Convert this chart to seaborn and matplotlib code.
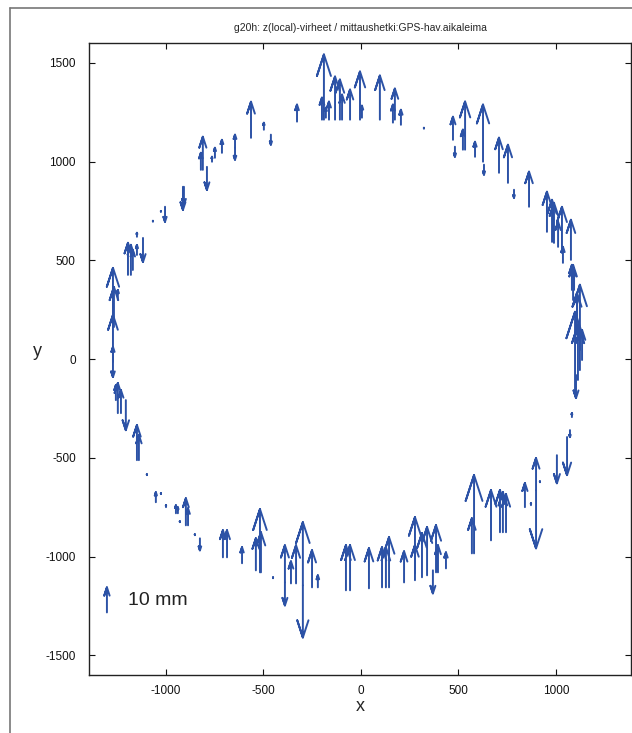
import numpy as np
import pandas as pd
import matplotlib
matplotlib.use("Agg")
import matplotlib.pyplot as plt
from matplotlib.lines import Line2D
import seaborn as sns

# ---- data: measurement points (x, y) and z(local) errors in mm ----
x_pts = [-564, -498, -462, -328, -190, -200, -180, -164, -133, -108, -97, -56, -5, 5, 97, 164, 174, 205,
         323, 472, 482, 523, 534, 585, 626, 631, 708, 754, 785, 862,
         954, 980, 990, 1011, 1031, 1036, 1077, 1082, 1093, 1123, 1108, 1098, 1113, 1123, 1134, 1103,
         1082, 1072, 1057, 1088, 1108,
         1005, 918, 898, 898, 841, 872, 713, 728, 744, 667, 580, 569, 436, 385, 395, 369, 339, 313,
         277, 277, 221, 144, 128, 108, 41, -56, -77,
         -221, -251, -298, -298, -333, -359, -390, -390, -451, -518, -513, -539, -610, -708, -687,
         -826, -852, -898, -887, -929, -949, -939, -1000, -1052, -1026, -1098,
         -1149, -1139, -1247, -1231, -1206, -1257, -1272, -1272, -1272, -1267, -1272, -1247, -1195,
         -1180, -1170, -1149, -1118, -1149, -1067, -1026, -1005, -913, -908, -821, -811, -790, -764,
         -749, -713, -646, -646]
y_pts = [1120, 1161, 1136, 1202, 1212, 1212, 1222, 1212, 1212, 1212, 1212, 1212, 1212, 1222, 1212, 1197, 1212, 1186,
         1166, 1110, 1075, 1060, 1060, 1024, 999, 984, 943, 892, 857, 771,
         644, 593, 588, 568, 537, 487, 502, 350, 350, 46, 122, -167, -106, -56, -5, -81,
         -294, -360, -395, 299, 198,
         -487, -624, -664, -664, -750, -740, -877, -877, -877, -918, -984, -984, -1060, -1080, -1080, -1070, -1095, -1105,
         -1085, -1120, -1131, -1156, -1156, -1156, -1161, -1171, -1171,
         -1156, -1156, -1146, -1146, -1136, -1136, -1131, -1131, -1110, -1080, -1080, -1070, -1034, -1004, -1004,
         -908, -892, -842, -842, -826, -781, -781, -750, -725, -684, -588,
         -512, -512, -274, -274, -208, -208, -15, -5, -5, 162, 172, 299, 426,
         426, 451, 527, 613, 619, 695, 745, 771, 872, 872, 958, 958, 973, 999,
         1019, 1044, 1070, 1070]
dz_mm = [14.4, 2.8, -4.0, 6.8, 26.0, 8.8, 4.0, 7.2, 17.2, 16.0, 10.0, 12.0, 19.2, 4.8, 17.6, 7.2, 12.4, 6.0,
         0.4, 9.2, -4.0, 8.0, 19.2, 6.0, 22.8, -4.0, 14.0, 15.2, -3.2, 14.0,
         16.0, 16.8, 16.0, 10.0, 18.4, 6.4, 16.0, 10.0, 8.0, 26.0, 16.8, 32.0, 22.0, 16.0, 12.0, -9.2,
         1.6, -2.8, -15.2, 14.0, 10.0,
         -11.2, 0.4, 12.8, -23.2, 9.6, 0.8, 16.8, 16.0, 15.2, 20.0, 31.2, 14.0, 6.4, 18.8, 10.8, -9.2, 19.2, 17.6,
         22.4, 14.0, 12.4, 20.0, 16.0, 16.0, 16.0, 18.0, 18.0,
         4.8, 14.8, 25.2, -20.8, 15.2, 8.8, 14.8, -9.2, 0.4, 25.2, 16.0, 12.8, 6.4, 10.8, 10.8,
         -4.8, 0.4, 10.8, 6.8, 0.4, 3.2, 2.4, 0.8, 4.0, 0.4, 0.4,
         14.0, 10.0, 12.0, 9.2, -12.0, 6.0, 6.0, -6.8, 18.0, 16.0, 22.8, 4.0, 12.8,
         12.0, 8.0, 4.0, -9.6, 1.6, 0.4, 0.4, -6.0, -9.2, -7.2, 6.8, 13.2, -9.2, 2.0,
         4.0, 5.2, 5.2, -4.8]

# reference (key) arrow
key_x = [-1303]
key_y = [-1283]
key_dz = [10.0]
key_label = "10 mm"

title = "g20h: z(local)-virheet / mittaushetki:GPS-hav.aikaleima"
x_ticks = [-1000, -500, 0, 500, 1000]
y_ticks = [-1500, -1000, -500, 0, 500, 1000, 1500]

# ---- styling ----
MM = 12.7            # data units per mm of error
ALPHA, BETA = 0.33, 0.33
ARROW_COLOR = "#2c52a6"

sns.set_style("ticks")
plt.rcParams["font.family"] = ["Liberation Sans", "DejaVu Sans"]
plt.rcParams["axes.unicode_minus"] = False


def arrow_frame(xs, ys, dzs, start_id=0):
    rows = []
    for i, (x, y, dz) in enumerate(zip(xs, ys, dzs)):
        L = dz * MM
        tip = y + L
        w = ALPHA * BETA * abs(L)
        back = tip - ALPHA * L
        pts = [(x, y), (x, tip), (x - w, back), (x, tip), (x + w, back)]
        for k, (px, py) in enumerate(pts):
            rows.append({"arrow": start_id + i, "order": k, "x": px, "y": py})
    return pd.DataFrame(rows)


df = arrow_frame(x_pts, y_pts, dz_mm)
dfk = arrow_frame(key_x, key_y, key_dz, start_id=10000)

fig = plt.figure(figsize=(6.32, 7.33), dpi=100)
ax = fig.add_axes([0.1408, 0.0791, 0.8576, 0.8622])

sns.lineplot(data=df, x="x", y="y", units="arrow", estimator=None, sort=False,
             color=ARROW_COLOR, linewidth=1.4, ax=ax, legend=False)
sns.lineplot(data=dfk, x="x", y="y", units="arrow", estimator=None, sort=False,
             color=ARROW_COLOR, linewidth=1.4, ax=ax, legend=False)

ax.text(key_x[0] + 108, key_y[0] + 60, key_label, fontsize=14, va="center", ha="left", color="#222222")

ax.set_xlim(-1395, 1385)
ax.set_ylim(-1600, 1600)
ax.set_xticks(x_ticks)
ax.set_yticks(y_ticks)
ax.tick_params(direction="in", length=4, width=0.8, top=True, right=True,
               labelsize=8.5, colors="#111111")
ax.tick_params(axis="x", pad=7)
ax.tick_params(axis="y", pad=9.5)
for s in ax.spines.values():
    s.set_linewidth(1.0)
    s.set_color("#222222")
    s.set_visible(True)

ax.set_xlabel("x", fontsize=13, labelpad=1)
ax.set_ylabel("y", fontsize=13, rotation=0, va="center")
ax.yaxis.set_label_coords(-0.095, 0.512)
ax.set_title(title, fontsize=7.5, pad=9)

# outer frame lines
fig.add_artist(Line2D([10 / 632, 10 / 632], [0, 1 - 8 / 733], color="#777777", lw=1.2, transform=fig.transFigure))
fig.add_artist(Line2D([10 / 632, 1], [1 - 8 / 733, 1 - 8 / 733], color="#777777", lw=1.2, transform=fig.transFigure))

fig.savefig("out.png", dpi=100)
